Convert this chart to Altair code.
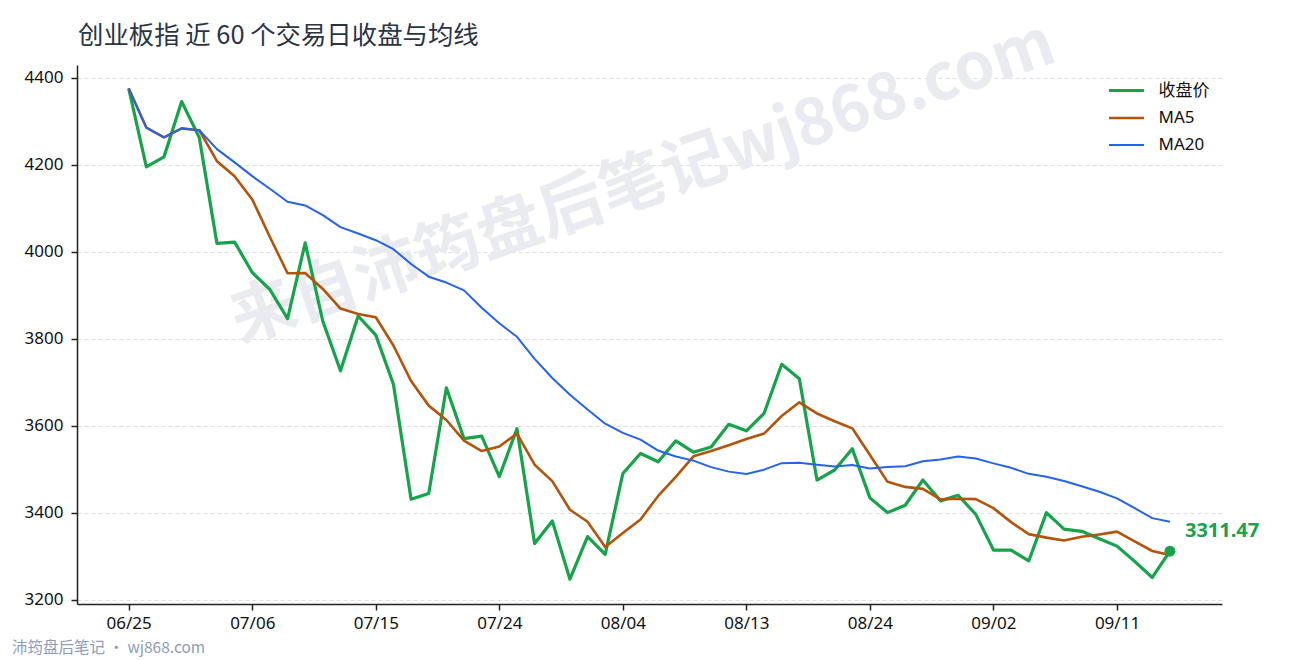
import altair as alt
import pandas as pd

DATES = [
    "06/25", "06/26", "06/29", "06/30", "07/01", "07/02", "07/03", "07/06", "07/07", "07/08",
    "07/09", "07/10", "07/13", "07/14", "07/15", "07/16", "07/17", "07/20", "07/21", "07/22",
    "07/23", "07/24", "07/27", "07/28", "07/29", "07/30", "07/31", "08/03", "08/04", "08/05",
    "08/06", "08/07", "08/10", "08/11", "08/12", "08/13", "08/14", "08/17", "08/18", "08/19",
    "08/20", "08/21", "08/24", "08/25", "08/26", "08/27", "08/28", "08/31", "09/01", "09/02",
    "09/03", "09/04", "09/07", "09/08", "09/09", "09/10", "09/11", "09/14", "09/15", "09/16",
]
CLOSE = [
    4375, 4195, 4218, 4345, 4262, 4019, 4022, 3952, 3913, 3846,
    4020, 3840, 3726, 3852, 3808, 3695, 3431, 3444, 3687, 3570,
    3576, 3483, 3593, 3329, 3381, 3247, 3345, 3304, 3490, 3536,
    3517, 3565, 3539, 3551, 3603, 3588, 3628, 3741, 3708, 3475,
    3498, 3547, 3434, 3400, 3417, 3475, 3427, 3440, 3396, 3314,
    3314, 3289, 3400, 3362, 3357, 3340, 3323, 3288, 3251, 3311.47,
]
MA5 = [
    4375, 4285, 4262.7, 4283.3, 4279, 4207.8, 4173.2, 4120, 4033.6, 3950.4,
    3950.6, 3914.2, 3869, 3856.8, 3849.2, 3784.2, 3702.4, 3646, 3613, 3565.4,
    3541.6, 3552, 3581.8, 3510.2, 3472.4, 3406.6, 3379, 3321.2, 3353.4, 3384.4,
    3438.4, 3482.4, 3529.4, 3541.6, 3555, 3569.2, 3581.8, 3622.2, 3653.6, 3628,
    3610, 3593.8, 3532.4, 3470.8, 3459.2, 3454.6, 3430.6, 3431.8, 3431, 3410.4,
    3378.2, 3350.6, 3342.6, 3335.8, 3344.4, 3349.6, 3356.4, 3334, 3311.8, 3302.7,
]
MA20 = [
    4375, 4285, 4262.7, 4283.3, 4279, 4235.7, 4205.1, 4173.5, 4144.6, 4114.7,
    4106.1, 4083.9, 4056.4, 4041.8, 4026.2, 4005.5, 3971.7, 3942.4, 3928.9, 3911,
    3871.1, 3835.5, 3804.2, 3753.4, 3709.4, 3670.8, 3636.9, 3604.5, 3583.4, 3567.9,
    3542.7, 3529, 3519.6, 3504.6, 3494.3, 3489, 3498.8, 3513.7, 3514.7, 3510,
    3506.1, 3509.3, 3501.3, 3504.9, 3506.7, 3518.1, 3522.2, 3529, 3524.3, 3513.2,
    3503, 3489.2, 3482.3, 3472.8, 3460.5, 3448.1, 3432.9, 3410.2, 3387.4, 3379.2,
]
TICK_DATES = ["06/25", "07/06", "07/15", "07/24", "08/04", "08/13", "08/24", "09/02", "09/11"]
TICK_POS = [DATES.index(d) for d in TICK_DATES]
Y_TICKS = [3200, 3400, 3600, 3800, 4000, 4200, 4400]

SERIES = ["收盘价", "MA5", "MA20"]
COLORS = ["#16a34a", "#b4530b", "#2563eb"]
WIDTHS = [3.2, 2, 2]

TITLE = "创业板指 近 60 个交易日收盘与均线"
WATERMARK = "来自沛筠盘后笔记wj868.com"
FOOTER = "沛筠盘后笔记 · wj868.com"
FONT = "Noto Sans, Noto Sans CJK SC"
CJK = "Noto Sans CJK SC"

W, H = 1145, 539

lines_df = pd.concat([
    pd.DataFrame({"idx": range(len(DATES)), "date": DATES, "series": name, "value": vals})
    for name, vals in zip(SERIES, [CLOSE, MA5, MA20])
], ignore_index=True)
last_df = pd.DataFrame({"idx": [len(DATES) - 1], "value": [CLOSE[-1]],
                        "label": [f"{CLOSE[-1]:.2f}"]})

label_expr = "{" + ", ".join(f"'{p}': '{d}'" for p, d in zip(TICK_POS, TICK_DATES)) + "}[datum.value]"

x_enc = alt.X("idx:Q",
              scale=alt.Scale(domain=[-2.93, len(DATES) - 1 + 2.95], nice=False, zero=False),
              axis=alt.Axis(values=TICK_POS, labelExpr=label_expr, title=None, grid=False,
                            labelPadding=5))
y_enc = alt.Y("value:Q",
              scale=alt.Scale(domain=[3190, 4429], nice=False, zero=False),
              axis=alt.Axis(values=Y_TICKS, format="d", title=None, grid=True, labelPadding=8,
                            gridDash=[4, 3], gridColor="#dedede", gridWidth=1))

# short symbol box keeps the rows tight, the path is drawn twice as long as the box
legend_opts = dict(title=None, orient="none", legendX=1039, legendY=15,
                   symbolType="M-2,0H2", symbolSize=306, labelFontSize=17,
                   labelColor="#111111", rowPadding=8.5, labelOffset=21.5, labelFont=FONT)

watermark = alt.Chart(pd.DataFrame({"t": [WATERMARK]})).mark_text(
    angle=341, fontSize=65, fontWeight="bold", color="#e9ebf1", font=CJK,
    align="center", baseline="middle",
).encode(x=alt.value(566), y=alt.value(118), text="t:N")

lines = alt.Chart(lines_df).mark_line(strokeJoin="round").encode(
    x=x_enc,
    y=y_enc,
    color=alt.Color("series:N", scale=alt.Scale(domain=SERIES, range=COLORS),
                    legend=alt.Legend(**legend_opts)),
    strokeWidth=alt.StrokeWidth("series:N", scale=alt.Scale(domain=SERIES, range=WIDTHS),
                                legend=alt.Legend(**legend_opts)),
    detail="series:N",
)

last_dot = alt.Chart(last_df).mark_circle(size=120, color=COLORS[0], opacity=1).encode(
    x="idx:Q", y="value:Q")
last_label = alt.Chart(last_df).mark_text(
    align="left", baseline="middle", dx=15, dy=-20, fontSize=20, fontWeight="bold",
    color=COLORS[0], font=FONT,
).encode(x="idx:Q", y="value:Q", text="label:N")

title = alt.Chart(pd.DataFrame({"t": [TITLE]})).mark_text(
    align="left", baseline="middle", fontSize=25.4, color="#2b3445", font=CJK,
).encode(x=alt.value(1), y=alt.value(-29), text="t:N")

footer = alt.Chart(pd.DataFrame({"t": [FOOTER]})).mark_text(
    align="left", baseline="middle", fontSize=15.5, color="#8d9cba", font=CJK,
).encode(x=alt.value(-65), y=alt.value(H + 44), text="t:N")

chart = alt.layer(watermark, lines, last_dot, last_label, title, footer).properties(
    width=W,
    height=H,
    autosize=alt.AutoSizeParams(type="none"),
    padding={"left": 69, "top": 57, "right": 60, "bottom": 54},
).configure_view(
    stroke=None
).configure_axis(
    domainColor="#222222", domainWidth=1.5, tickColor="#222222", tickWidth=1.5,
    tickSize=6, labelFontSize=17, labelColor="#111111", labelFont=FONT,
)

chart.save("out.html", embed_options={"renderer": "svg", "actions": False})
